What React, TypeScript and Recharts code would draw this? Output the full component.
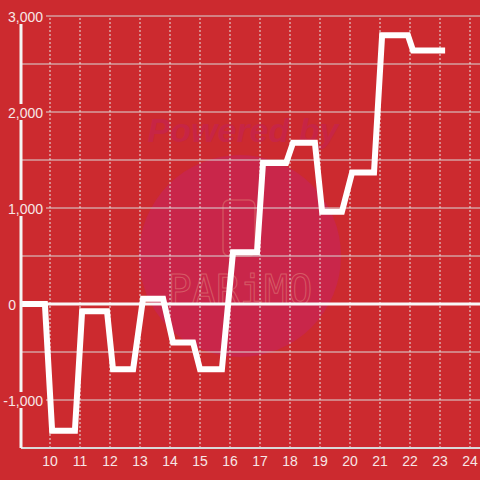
import { LineChart, Line, XAxis, YAxis, CartesianGrid, ReferenceLine } from "recharts"

// x positions (hour of day) and values
const hours = [9.03, 9.83, 10.07, 10.83, 11.07, 11.9, 12.1, 12.77, 13.1, 13.77, 14.1, 14.77, 15.0, 15.73, 16.1, 16.9, 17.1, 17.87, 18.1, 18.83, 19.07, 19.73, 20.07, 20.8, 21.07, 21.93, 22.1, 23.17]
const values = [0, 0, -1320, -1320, -75, -75, -680, -680, 55, 55, -400, -400, -680, -680, 540, 540, 1470, 1470, 1680, 1680, 960, 960, 1370, 1370, 2800, 2800, 2640, 2640]
const xTicks = [10, 11, 12, 13, 14, 15, 16, 17, 18, 19, 20, 21, 22, 23, 24]
const yTicks = [-1500, -1000, -500, 0, 500, 1000, 1500, 2000, 2500, 3000]

const data = hours.map((h, i) => ({ h, v: values[i] }))

const BG = "#cc2a2f"
const FONT = "'Liberation Sans', Arial, sans-serif"
const LABEL = "#f7e6e6"

const YTick = (props: any) => {
    const { y, payload } = props
    const v = payload.value
    if (v % 1000 !== 0 || v === -1500) return null
    const label = v.toLocaleString("en-US")
    const right = v === 0 ? 16 : 43
    const w = v === 0 ? 12 : 42
    return (
        <g>
            <rect x={right - w + 1} y={y - 8} width={w + 2} height={16} fill={BG} />
            <text x={right} y={y + 6} textAnchor="end" fontSize={14} fontFamily={FONT} fill={LABEL}>
                {label}
            </text>
        </g>
    )
}

const XTick = (props: any) => {
    const { x, payload } = props
    return (
        <text x={x} y={466} textAnchor="middle" fontSize={14} fontFamily={FONT} fill={LABEL}>
            {payload.value}
        </text>
    )
}

export default function App() {
    return (
        <div style={{ position: "absolute", left: 0, top: 0, width: 480, height: 480, background: BG, overflow: "hidden" }}>
            {/* faint watermark */}
            <svg width={480} height={480} style={{ position: "absolute", left: 0, top: 0 }}>
                <circle cx={240} cy={256} r={101} fill="#c9264a" />
                <text x={243} y={142} textAnchor="middle" fontSize={34} fontWeight="bold" fontStyle="italic" fontFamily={FONT} fill="#c72545">
                    Powered by
                </text>
                <rect x={223} y={200} width={32} height={56} rx={6} fill="none" stroke="#d2505e" strokeWidth={1.5} />
                <text x={240} y={304} textAnchor="middle" fontSize={40} fontFamily="'DejaVu Sans Mono', monospace" fill="none" stroke="#d65a66" strokeWidth={1}>
                    PARiMO
                </text>
            </svg>
            <div style={{ position: "absolute", left: 0, top: 0 }}>
                <LineChart width={480} height={480} data={data} margin={{ top: 16, right: 0, bottom: 0, left: 0 }}>
                    <CartesianGrid horizontal={true} vertical={false} stroke="#d9d9d9" strokeWidth={1} />
                    {xTicks.map((t) => (
                        <ReferenceLine key={t} x={t} stroke="#e6e6e6" strokeDasharray="2 2" strokeWidth={1} />
                    ))}
                    <XAxis
                        dataKey="h"
                        type="number"
                        domain={[9.033, 24.333]}
                        ticks={xTicks}
                        height={32}
                        tickLine={false}
                        axisLine={{ stroke: "#d9d9d9", strokeWidth: 2 }}
                        tick={<XTick />}
                        allowDataOverflow
                    />
                    <YAxis
                        type="number"
                        domain={[-1500, 3000]}
                        ticks={yTicks}
                        width={21}
                        tickLine={false}
                        axisLine={{ stroke: "#f4f4f4", strokeWidth: 3 }}
                        tick={<YTick />}
                        allowDataOverflow
                    />
                    <ReferenceLine y={0} stroke="#f8f8f8" strokeWidth={3} />
                    <Line
                        type="linear"
                        dataKey="v"
                        stroke="#ffffff"
                        strokeWidth={6}
                        strokeLinejoin="miter"
                        dot={false}
                        activeDot={false}
                        isAnimationActive={false}
                    />
                </LineChart>
            </div>
        </div>
    )
}
